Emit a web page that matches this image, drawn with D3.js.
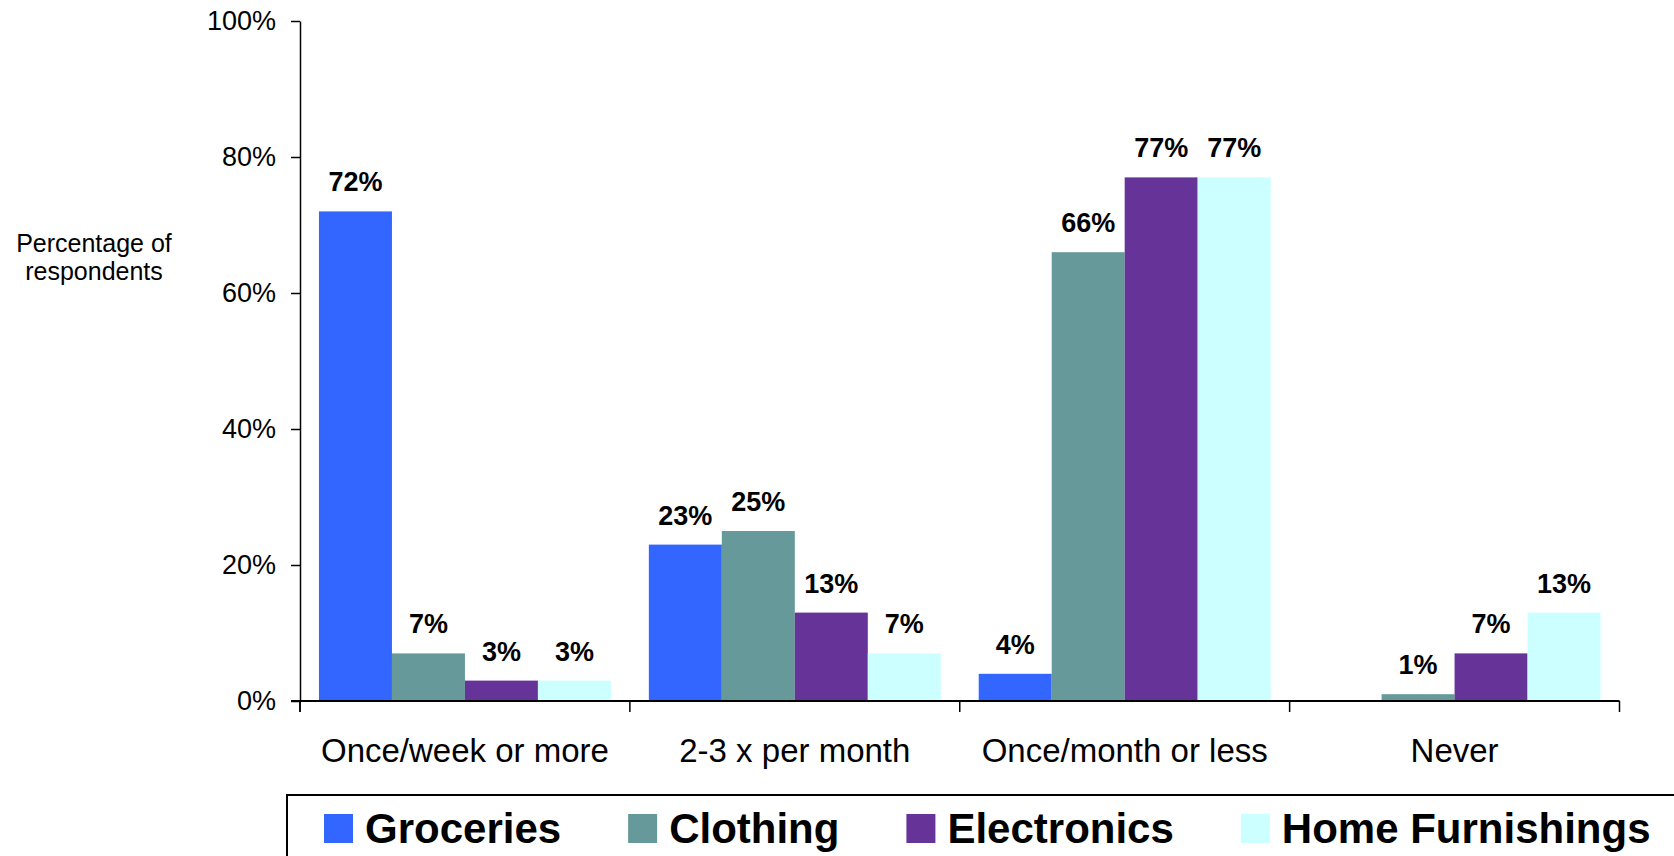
<!DOCTYPE html>
<html>
<head>
<meta charset="utf-8">
<script src="https://cdn.jsdelivr.net/npm/d3@7/dist/d3.min.js"></script>
<style>
  html, body { margin: 0; padding: 0; background: #fff; }
  svg { display: block; font-family: "Liberation Sans", Arial, sans-serif; }
</style>
</head>
<body>
<svg id="chart" width="1674" height="856"></svg>
<script>
const categories = ["Once/week or more", "2-3 x per month", "Once/month or less", "Never"];
const seriesNames = ["Groceries", "Clothing", "Electronics", "Home Furnishings"];
const groceries = [72, 23, 4, 0];
const clothing = [7, 25, 66, 1];
const electronics = [3, 13, 77, 7];
const homeFurnishings = [3, 7, 77, 13];
const seriesColors = ["#3366FF", "#669999", "#663399", "#CCFFFF"];
const yTicks = [0, 20, 40, 60, 80, 100];
const yLabelLines = ["Percentage of", "respondents"];

const seriesValues = [groceries, clothing, electronics, homeFurnishings];

const svg = d3.select("#chart");
const plotLeft = 300, plotRight = 1619.5, plotTop = 21, plotBottom = 701;

const pad = 0.115;
const x0 = d3.scaleBand().domain(categories).range([plotLeft, plotRight])
  .paddingInner(pad).paddingOuter(pad / 2);
const x1 = d3.scaleBand().domain(seriesNames).range([0, x0.bandwidth()]).padding(0);
const y = d3.scaleLinear().domain([0, 100]).range([plotBottom, plotTop]);
const color = d3.scaleOrdinal().domain(seriesNames).range(seriesColors);

// Bars
const groups = svg.append("g").selectAll("g")
  .data(categories)
  .join("g")
  .attr("transform", d => `translate(${x0(d)},0)`);

groups.selectAll("rect")
  .data((c, ci) => seriesNames.map((s, si) => ({ s, v: seriesValues[si][ci] })))
  .join("rect")
  .attr("x", d => x1(d.s))
  .attr("width", x1.bandwidth())
  .attr("y", d => y(d.v))
  .attr("height", d => y(0) - y(d.v))
  .attr("fill", d => color(d.s));

groups.selectAll("text.val")
  .data((c, ci) => seriesNames.map((s, si) => ({ s, v: seriesValues[si][ci] })).filter(d => d.v > 0))
  .join("text")
  .attr("class", "val")
  .attr("x", d => x1(d.s) + x1.bandwidth() / 2)
  .attr("y", d => y(d.v) - 20)
  .attr("text-anchor", "middle")
  .attr("font-size", 27)
  .attr("font-weight", "bold")
  .attr("fill", "#000")
  .text(d => d.v + "%");

// Y axis
const yAxis = d3.axisLeft(y).tickValues(yTicks).tickFormat(d => d + "%")
  .tickSize(9).tickSizeOuter(0).tickPadding(15);
const gy = svg.append("g").attr("transform", `translate(${plotLeft},0)`).call(yAxis);
gy.select(".domain").attr("stroke", "#000").attr("stroke-width", 1.5);
gy.selectAll(".tick line").attr("stroke", "#000").attr("stroke-width", 1.5);
gy.selectAll(".tick text").attr("font-size", 27).attr("fill", "#000")
  .attr("font-family", "\"Liberation Sans\", Arial, sans-serif");
gy.append("line").attr("x1", 0).attr("x2", 0).attr("y1", y(0)).attr("y2", y(0) + 11)
  .attr("stroke", "#000").attr("stroke-width", 1.5);

// X axis
const xAxis = d3.axisBottom(x0).tickSize(0).tickSizeOuter(0).tickPadding(61);
const gx = svg.append("g").attr("transform", `translate(0,${plotBottom})`).call(xAxis);
gx.select(".domain").attr("stroke", "#000").attr("stroke-width", 2)
  .attr("d", `M${plotLeft - 9},0H${plotRight}`);
gx.selectAll(".tick text").attr("font-size", 33).attr("fill", "#000")
  .attr("dy", 0).attr("font-family", "\"Liberation Sans\", Arial, sans-serif");

const boundaries = categories.map(c => x0(c) - x0.step() * pad / 2)
  .concat([x0(categories[categories.length - 1]) + x0.bandwidth() + x0.step() * pad / 2]);
gx.selectAll("line.bound").data(boundaries).join("line")
  .attr("class", "bound")
  .attr("x1", d => d).attr("x2", d => d)
  .attr("y1", 0).attr("y2", 11)
  .attr("stroke", "#000").attr("stroke-width", 1.5);

// Y axis title
svg.append("text")
  .attr("x", 94).attr("y", 252)
  .attr("text-anchor", "middle")
  .attr("font-size", 25)
  .attr("fill", "#000")
  .selectAll("tspan").data(yLabelLines).join("tspan")
  .attr("x", 94)
  .attr("dy", (d, i) => i === 0 ? 0 : 28)
  .text(d => d);

// Legend
svg.append("rect")
  .attr("x", 287).attr("y", 795).attr("width", 1500).attr("height", 200)
  .attr("fill", "none").attr("stroke", "#000").attr("stroke-width", 2);

let lx = 324;
seriesNames.forEach((s, i) => {
  svg.append("rect").attr("x", lx).attr("y", 814).attr("width", 29).attr("height", 29)
    .attr("fill", color(s));
  const t = svg.append("text").attr("x", lx + 41).attr("y", 843)
    .attr("font-size", 42).attr("font-weight", "bold").attr("fill", "#000").text(s);
  lx = lx + 41 + t.node().getComputedTextLength() + 67;
});
</script>
</body>
</html>
